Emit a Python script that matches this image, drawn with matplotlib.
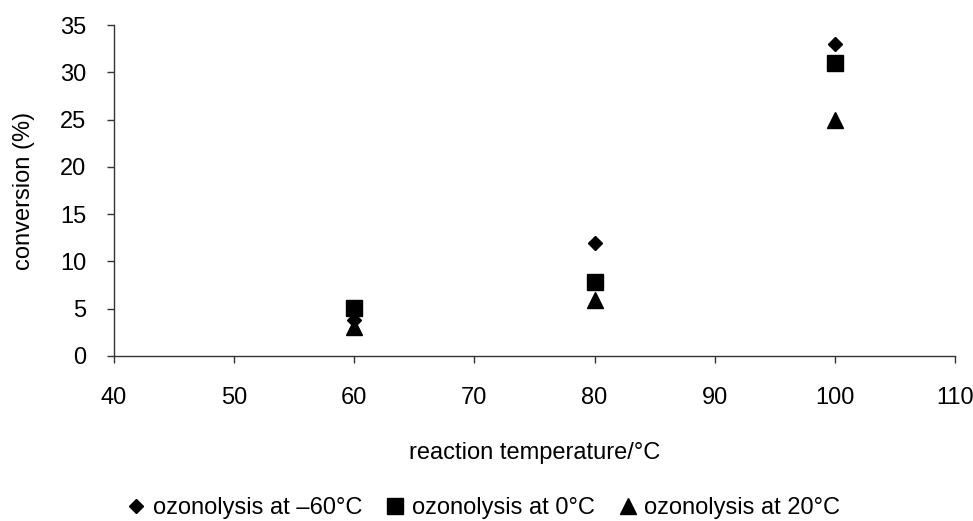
import numpy as np
import matplotlib.pyplot as plt

plt.rcParams['font.family'] = ['Liberation Sans', 'DejaVu Sans']

# data
temperatures = [60, 80, 100]
conv_minus60 = [3.8, 12.0, 33.0]
conv_0 = [5.1, 7.8, 31.0]
conv_20 = [3.1, 5.9, 25.0]

labels = ['ozonolysis at \u201360\u00b0C', 'ozonolysis at 0\u00b0C', 'ozonolysis at 20\u00b0C']

fs = 17

fig = plt.figure(figsize=(9.73, 5.21), dpi=100)
ax = fig.add_axes([114 / 973, 1 - 356 / 521, (955 - 114) / 973, (356 - 25) / 521])

ax.plot(temperatures, conv_minus60, linestyle='none', marker='D', markersize=7.5,
        color='black', label=labels[0], zorder=3)
ax.plot(temperatures, conv_0, linestyle='none', marker='s', markersize=11,
        color='black', label=labels[1], zorder=2)
ax.plot(temperatures, conv_20, linestyle='none', marker='^', markersize=12,
        color='black', label=labels[2], zorder=2)

ax.set_xlim(40, 110)
ax.set_ylim(0, 35)
ax.set_xticks(np.arange(40, 111, 10))
ax.set_yticks(np.arange(0, 36, 5))

for side in ['top', 'right']:
    ax.spines[side].set_visible(False)
for side in ['left', 'bottom']:
    ax.spines[side].set_color('#333333')
    ax.spines[side].set_linewidth(1.0)

ax.tick_params(axis='both', direction='out', length=5, width=1.0, color='#333333',
               labelsize=fs, labelcolor='black')
ax.tick_params(axis='x', pad=17)
ax.tick_params(axis='y', pad=15)

ax.set_ylabel('conversion (%)', fontsize=fs)
ax.yaxis.set_label_coords(-(114 - 35) / 841, 0.5)
fig.text((114 + 955) / 2 / 973, 1 - 453 / 521, 'reaction temperature/\u00b0C',
         ha='center', va='center', fontsize=fs)

handles, lbls = ax.get_legend_handles_labels()
fig.legend(handles, lbls, loc='center', bbox_to_anchor=(0.497, 1 - 508 / 521), ncol=3,
           frameon=False, fontsize=fs, handletextpad=0.3, columnspacing=1.0,
           handlelength=0.8, markerscale=1.0)

plt.savefig('out.png', dpi=100)
plt.close()
